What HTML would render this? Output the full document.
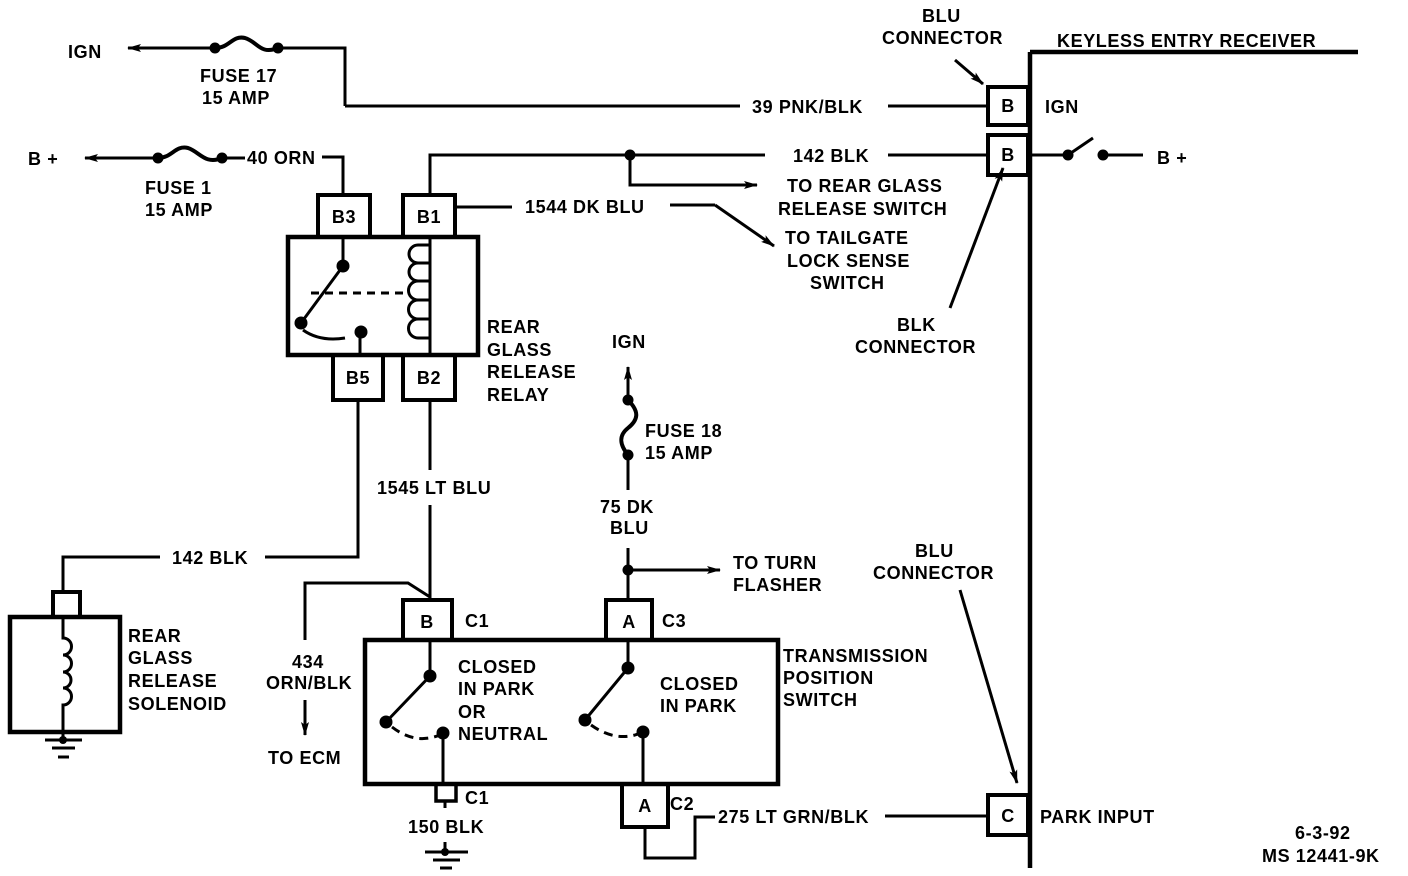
<!DOCTYPE html>
<html><head><meta charset="utf-8"><style>
html,body{margin:0;padding:0;background:#fff;}
svg{display:block;}
text{font-family:"Liberation Sans",sans-serif;font-weight:bold;font-size:18px;letter-spacing:0.6px;fill:#000;}
</style></head><body>
<svg width="1408" height="876" viewBox="0 0 1408 876" xmlns="http://www.w3.org/2000/svg">
<defs>
<marker id="ah" markerWidth="14" markerHeight="10" refX="13" refY="5" orient="auto" markerUnits="userSpaceOnUse">
<path d="M0,1 L14,5 L0,9 L3,5 Z" fill="#000"/></marker>
</defs>
<g stroke="#000" stroke-width="3" fill="none">
<path d="M1030,52 V868 M1030,52 H1358" stroke-width="4.5"/>
<rect x="988" y="87" width="40" height="38" stroke-width="4"/>
<rect x="988" y="135" width="40" height="40" stroke-width="4"/>
<rect x="988" y="795" width="40" height="40" stroke-width="4"/>
<path d="M345,106 H740 M888,106 H988"/>
<path d="M345,106 V48 H278"/>
<path d="M215,48 C230,48 232,35 245,38 C258,42 260,55 278,48" stroke-width="4"/>
<path d="M215,48 H128" marker-end="url(#ah)"/>
<path d="M158,158 H85" marker-end="url(#ah)"/>
<path d="M158,158 C172,158 175,145 188,148 C200,152 205,165 222,158" stroke-width="4"/>
<path d="M222,158 H245"/>
<path d="M322,157 H343 V195"/>
<rect x="318" y="195" width="52" height="42" stroke-width="4"/>
<rect x="403" y="195" width="52" height="42" stroke-width="4"/>
<rect x="288" y="237" width="190" height="118" stroke-width="4.5"/>
<rect x="333" y="355" width="50" height="45" stroke-width="4"/>
<rect x="403" y="355" width="52" height="45" stroke-width="4"/>
<path d="M343,237 V266 M343,266 L301,323 M303,330 Q320,342 345,338 M360,333 V355"/>
<path d="M311,293 H408" stroke-dasharray="8,6"/>
<path d="M430,237 V355 M430,245 H418 A9,9 0 0 0 418,263 H430 M418,263 A9,9 0 0 0 418,281 H430 M418,281 A9,9 0 0 0 418,300 H430 M418,300 A9,9 0 0 0 418,319 H430 M418,319 A9,9 0 0 0 418,338 H430"/>
<path d="M430,195 V155 H765 M888,155 H988"/>
<path d="M630,155 V185 H757" marker-end="url(#ah)"/>
<path d="M455,207 H512 M670,205 H715"/>
<path d="M715,205 L774,246" marker-end="url(#ah)"/>
<path d="M1030,155 H1068 L1093,138 M1103,155 H1143"/>
<path d="M955,60 L983,84" marker-end="url(#ah)"/>
<path d="M950,308 L1003,168" marker-end="url(#ah)"/>
<path d="M960,590 L1017,783" marker-end="url(#ah)"/>
<path d="M358,400 V557 H265 M160,557 H63 V592"/>
<rect x="53" y="592" width="27" height="25" stroke-width="4"/>
<rect x="10" y="617" width="110" height="115" stroke-width="4.5"/>
<path d="M63,617 V638 A8.5,8.5 0 0 1 63,655 A8.5,8.5 0 0 1 63,672 A8,8 0 0 1 63,688 A8.5,8.5 0 0 1 63,705 V740"/>
<path d="M45,740 H82 M52,748 H75 M58,757 H69"/>
<path d="M430,400 V470 M430,505 V600"/>
<path d="M430,597 L408,583 H305 V640"/>
<path d="M305,700 V735" marker-end="url(#ah)"/>
<rect x="403" y="600" width="49" height="40" stroke-width="4"/>
<rect x="606" y="600" width="46" height="40" stroke-width="4"/>
<rect x="365" y="640" width="413" height="144" stroke-width="4.5"/>
<rect x="622" y="784" width="46" height="43" stroke-width="4"/>
<rect x="436" y="784" width="20" height="17" stroke-width="3.5"/>
<path d="M430,640 V676 L386,722 M443,733 V784"/>
<path d="M392,727 Q415,745 440,735" stroke-dasharray="9,6"/>
<path d="M628,640 V668 L585,720 M643,732 V784"/>
<path d="M591,725 Q615,742 638,734" stroke-dasharray="9,6"/>
<path d="M445,801 V808 M445,842 V852 M425,852 H468 M433,860 H460 M440,868 H452"/>
<path d="M628,400 V367" marker-end="url(#ah)"/>
<path d="M628,400 C640,412 638,420 628,428 C618,436 620,445 628,455" stroke-width="4"/>
<path d="M628,455 V490 M628,548 V600"/>
<path d="M628,570 H720" marker-end="url(#ah)"/>
<path d="M645,827 V858 H695 V817 H715 M885,816 H988"/>
</g>
<g fill="#000">
<circle cx="215" cy="48" r="5.5"/><circle cx="278" cy="48" r="5.5"/>
<circle cx="158" cy="158" r="5.5"/><circle cx="222" cy="158" r="5.5"/>
<circle cx="343" cy="266" r="6.5"/><circle cx="301" cy="323" r="6.5"/><circle cx="361" cy="332" r="6.5"/>
<circle cx="630" cy="155" r="5.5"/>
<circle cx="1068" cy="155" r="5.5"/><circle cx="1103" cy="155" r="5.5"/>
<circle cx="430" cy="676" r="6.5"/><circle cx="386" cy="722" r="6.5"/><circle cx="443" cy="733" r="6.5"/>
<circle cx="628" cy="668" r="6.5"/><circle cx="585" cy="720" r="6.5"/><circle cx="643" cy="732" r="6.5"/>
<circle cx="628" cy="400" r="5.5"/><circle cx="628" cy="455" r="5.5"/><circle cx="628" cy="570" r="5.5"/>
<circle cx="445" cy="852" r="4"/><circle cx="63" cy="740" r="4"/>
</g>
<text x="1057" y="47">KEYLESS ENTRY RECEIVER</text>
<text x="922" y="22">BLU</text><text x="882" y="44">CONNECTOR</text>
<text x="1008" y="112" text-anchor="middle">B</text>
<text x="1008" y="161" text-anchor="middle">B</text>
<text x="1008" y="822" text-anchor="middle">C</text>
<text x="1045" y="113">IGN</text>
<text x="1157" y="164">B +</text>
<text x="68" y="58">IGN</text>
<text x="200" y="82">FUSE 17</text><text x="202" y="104">15 AMP</text>
<text x="752" y="113">39 PNK/BLK</text>
<text x="28" y="165">B +</text>
<text x="247" y="164">40 ORN</text>
<text x="145" y="194">FUSE 1</text><text x="145" y="216">15 AMP</text>
<text x="344" y="223" text-anchor="middle">B3</text>
<text x="429" y="223" text-anchor="middle">B1</text>
<text x="358" y="384" text-anchor="middle">B5</text>
<text x="429" y="384" text-anchor="middle">B2</text>
<text x="793" y="162">142 BLK</text>
<text x="787" y="192">TO REAR GLASS</text><text x="778" y="215">RELEASE SWITCH</text>
<text x="525" y="213">1544 DK BLU</text>
<text x="785" y="244">TO TAILGATE</text><text x="787" y="267">LOCK SENSE</text><text x="810" y="289">SWITCH</text>
<text x="897" y="331">BLK</text><text x="855" y="353">CONNECTOR</text>
<text x="487" y="333">REAR</text><text x="487" y="356">GLASS</text><text x="487" y="378">RELEASE</text><text x="487" y="401">RELAY</text>
<text x="612" y="348">IGN</text>
<text x="645" y="437">FUSE 18</text><text x="645" y="459">15 AMP</text>
<text x="377" y="494">1545 LT BLU</text>
<text x="600" y="513">75 DK</text><text x="610" y="534">BLU</text>
<text x="733" y="569">TO TURN</text><text x="733" y="591">FLASHER</text>
<text x="915" y="557">BLU</text><text x="873" y="579">CONNECTOR</text>
<text x="172" y="564">142 BLK</text>
<text x="128" y="642">REAR</text><text x="128" y="664">GLASS</text><text x="128" y="687">RELEASE</text><text x="128" y="710">SOLENOID</text>
<text x="427" y="628" text-anchor="middle">B</text><text x="465" y="627">C1</text>
<text x="629" y="628" text-anchor="middle">A</text><text x="662" y="627">C3</text>
<text x="292" y="668">434</text><text x="266" y="689">ORN/BLK</text>
<text x="268" y="764">TO ECM</text>
<text x="458" y="673">CLOSED</text><text x="458" y="695">IN PARK</text><text x="458" y="718">OR</text><text x="458" y="740">NEUTRAL</text>
<text x="660" y="690">CLOSED</text><text x="660" y="712">IN PARK</text>
<text x="783" y="662">TRANSMISSION</text><text x="783" y="684">POSITION</text><text x="783" y="706">SWITCH</text>
<text x="465" y="804">C1</text>
<text x="408" y="833">150 BLK</text>
<text x="645" y="812" text-anchor="middle">A</text><text x="670" y="810">C2</text>
<text x="718" y="823">275 LT GRN/BLK</text>
<text x="1040" y="823">PARK INPUT</text>
<text x="1295" y="839">6-3-92</text>
<text x="1262" y="862">MS 12441-9K</text>
</svg>
</body></html>
